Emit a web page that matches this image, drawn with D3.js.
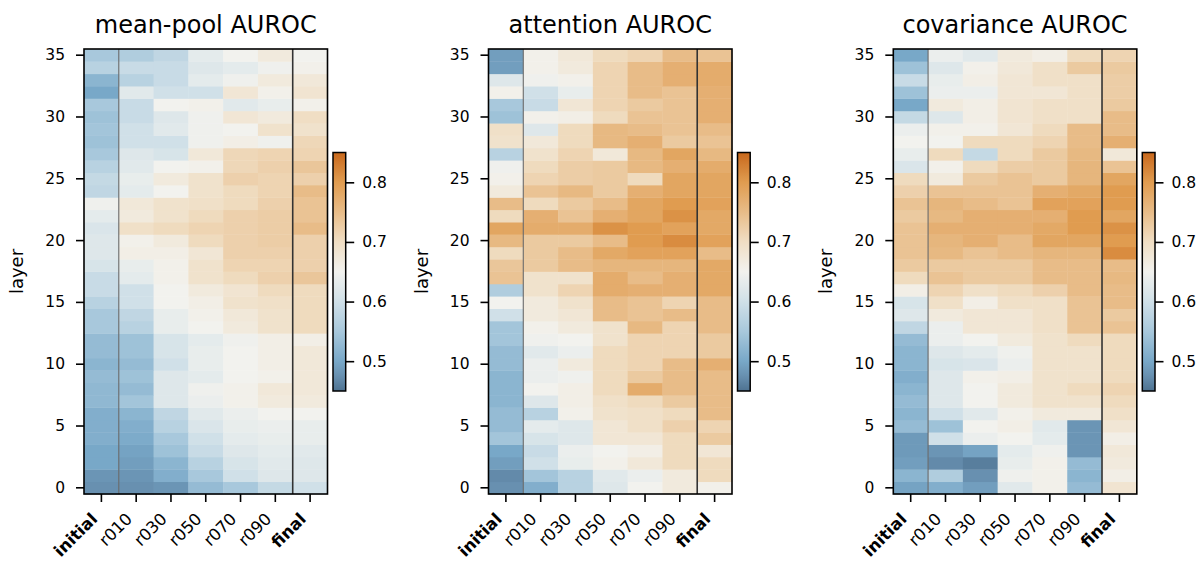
<!DOCTYPE html>
<html lang="en">
<head>
<meta charset="UTF-8">
<title>AUROC by layer</title>
<script src="https://cdn.jsdelivr.net/npm/d3@7"></script>
<style>
  body { margin: 0; background: #fff; }
  svg text { font-family: "DejaVu Sans", sans-serif; fill: #000; }
</style>
</head>
<body>
<div id="chart"></div>
<script>
// columns = checkpoints, rows = layer 0..35
const checkpoints = ["initial", "r010", "r030", "r050", "r070", "r090", "final"];
const boldLabels = ["initial", "final"];
const layerTicks = [0, 5, 10, 15, 20, 25, 30, 35];
const cbarTicks = [0.5, 0.6, 0.7, 0.8];
const titles = ["mean-pool AUROC", "attention AUROC", "covariance AUROC"];

const meanPool = [
  [0.475,0.475,0.48,0.53,0.55,0.585,0.60],
  [0.48,0.48,0.51,0.55,0.60,0.62,0.62],
  [0.50,0.49,0.52,0.57,0.61,0.625,0.62],
  [0.50,0.495,0.54,0.59,0.62,0.63,0.625],
  [0.51,0.505,0.55,0.60,0.63,0.635,0.635],
  [0.51,0.51,0.57,0.615,0.635,0.64,0.635],
  [0.51,0.52,0.58,0.625,0.64,0.65,0.65],
  [0.525,0.545,0.62,0.64,0.655,0.67,0.67],
  [0.525,0.53,0.62,0.645,0.655,0.675,0.675],
  [0.53,0.54,0.62,0.63,0.65,0.655,0.675],
  [0.52,0.53,0.60,0.635,0.65,0.66,0.675],
  [0.53,0.54,0.61,0.635,0.65,0.66,0.675],
  [0.53,0.54,0.61,0.63,0.645,0.66,0.66],
  [0.55,0.57,0.635,0.65,0.67,0.69,0.705],
  [0.55,0.58,0.635,0.655,0.675,0.69,0.705],
  [0.57,0.60,0.65,0.66,0.69,0.695,0.705],
  [0.59,0.60,0.65,0.67,0.685,0.705,0.705],
  [0.59,0.63,0.655,0.69,0.705,0.72,0.735],
  [0.61,0.635,0.655,0.69,0.715,0.715,0.72],
  [0.62,0.66,0.66,0.68,0.72,0.72,0.72],
  [0.62,0.655,0.67,0.705,0.72,0.725,0.72],
  [0.615,0.695,0.705,0.715,0.72,0.725,0.75],
  [0.63,0.67,0.69,0.705,0.72,0.725,0.74],
  [0.645,0.675,0.69,0.695,0.705,0.72,0.74],
  [0.58,0.63,0.65,0.69,0.705,0.715,0.75],
  [0.585,0.635,0.67,0.69,0.72,0.715,0.72],
  [0.57,0.625,0.65,0.655,0.71,0.72,0.735],
  [0.55,0.62,0.61,0.675,0.71,0.715,0.715],
  [0.54,0.60,0.60,0.645,0.66,0.645,0.71],
  [0.545,0.60,0.625,0.645,0.65,0.69,0.69],
  [0.54,0.59,0.62,0.645,0.68,0.67,0.70],
  [0.55,0.59,0.65,0.655,0.625,0.635,0.655],
  [0.50,0.625,0.60,0.60,0.68,0.655,0.685],
  [0.52,0.57,0.59,0.63,0.645,0.67,0.675],
  [0.57,0.59,0.59,0.62,0.63,0.645,0.655],
  [0.55,0.56,0.58,0.63,0.65,0.67,0.65]
];

const attention = [
  [0.475,0.51,0.57,0.62,0.65,0.67,0.655],
  [0.47,0.545,0.57,0.625,0.64,0.67,0.705],
  [0.49,0.60,0.635,0.655,0.675,0.705,0.705],
  [0.50,0.59,0.64,0.65,0.66,0.705,0.68],
  [0.545,0.61,0.62,0.68,0.68,0.705,0.73],
  [0.53,0.63,0.62,0.68,0.695,0.72,0.715],
  [0.53,0.57,0.655,0.69,0.695,0.705,0.75],
  [0.52,0.62,0.66,0.695,0.705,0.73,0.75],
  [0.52,0.65,0.66,0.705,0.775,0.75,0.75],
  [0.52,0.64,0.645,0.705,0.73,0.75,0.75],
  [0.53,0.64,0.67,0.705,0.715,0.75,0.77],
  [0.53,0.625,0.64,0.705,0.715,0.715,0.73],
  [0.545,0.645,0.65,0.69,0.715,0.715,0.73],
  [0.545,0.655,0.67,0.69,0.755,0.715,0.75],
  [0.60,0.67,0.68,0.75,0.74,0.75,0.75],
  [0.65,0.67,0.69,0.75,0.74,0.715,0.75],
  [0.56,0.69,0.715,0.775,0.77,0.77,0.78],
  [0.74,0.69,0.69,0.775,0.75,0.77,0.78],
  [0.735,0.73,0.75,0.76,0.76,0.76,0.78],
  [0.705,0.73,0.75,0.78,0.79,0.79,0.75],
  [0.755,0.73,0.73,0.75,0.80,0.815,0.79],
  [0.785,0.775,0.775,0.81,0.80,0.79,0.78],
  [0.705,0.77,0.74,0.77,0.785,0.81,0.78],
  [0.75,0.705,0.73,0.75,0.785,0.80,0.79],
  [0.67,0.74,0.755,0.73,0.77,0.785,0.785],
  [0.655,0.715,0.725,0.73,0.705,0.785,0.785],
  [0.645,0.705,0.725,0.73,0.755,0.77,0.775],
  [0.57,0.69,0.715,0.675,0.755,0.785,0.755],
  [0.69,0.675,0.705,0.755,0.77,0.73,0.74],
  [0.695,0.62,0.705,0.755,0.75,0.74,0.75],
  [0.54,0.655,0.66,0.705,0.74,0.74,0.77],
  [0.55,0.59,0.68,0.715,0.73,0.74,0.77],
  [0.655,0.60,0.635,0.715,0.75,0.74,0.77],
  [0.62,0.645,0.655,0.715,0.75,0.77,0.775],
  [0.49,0.655,0.67,0.715,0.75,0.77,0.775],
  [0.49,0.655,0.675,0.705,0.715,0.75,0.74]
];

const covariance = [
  [0.495,0.51,0.49,0.625,0.655,0.53,0.685],
  [0.52,0.56,0.475,0.645,0.655,0.52,0.66],
  [0.49,0.47,0.46,0.635,0.655,0.53,0.67],
  [0.485,0.48,0.495,0.63,0.645,0.48,0.675],
  [0.485,0.60,0.64,0.65,0.63,0.48,0.66],
  [0.53,0.54,0.65,0.66,0.625,0.48,0.68],
  [0.52,0.60,0.625,0.655,0.67,0.67,0.695],
  [0.53,0.62,0.65,0.67,0.69,0.69,0.705],
  [0.52,0.62,0.65,0.67,0.69,0.705,0.715],
  [0.51,0.62,0.655,0.66,0.69,0.69,0.705],
  [0.52,0.61,0.615,0.64,0.69,0.69,0.705],
  [0.52,0.62,0.63,0.645,0.69,0.69,0.705],
  [0.53,0.64,0.65,0.67,0.69,0.705,0.705],
  [0.58,0.64,0.68,0.68,0.695,0.74,0.74],
  [0.62,0.67,0.68,0.68,0.695,0.74,0.73],
  [0.61,0.695,0.66,0.695,0.695,0.74,0.75],
  [0.66,0.715,0.695,0.705,0.72,0.75,0.75],
  [0.705,0.74,0.73,0.73,0.75,0.75,0.755],
  [0.73,0.73,0.73,0.73,0.75,0.75,0.75],
  [0.74,0.755,0.74,0.75,0.76,0.76,0.815],
  [0.74,0.76,0.77,0.75,0.785,0.785,0.80],
  [0.74,0.77,0.77,0.77,0.78,0.80,0.81],
  [0.73,0.755,0.77,0.77,0.77,0.80,0.785],
  [0.74,0.76,0.75,0.74,0.79,0.79,0.80],
  [0.72,0.74,0.74,0.74,0.77,0.78,0.80],
  [0.705,0.67,0.73,0.74,0.73,0.76,0.785],
  [0.615,0.655,0.705,0.725,0.73,0.76,0.74],
  [0.635,0.705,0.585,0.705,0.73,0.755,0.675],
  [0.65,0.65,0.705,0.705,0.715,0.75,0.77],
  [0.64,0.655,0.655,0.68,0.705,0.75,0.75],
  [0.585,0.62,0.66,0.685,0.695,0.695,0.75],
  [0.50,0.67,0.66,0.685,0.695,0.695,0.73],
  [0.54,0.64,0.64,0.68,0.68,0.695,0.725],
  [0.59,0.635,0.66,0.68,0.695,0.695,0.725],
  [0.54,0.62,0.655,0.675,0.695,0.73,0.73],
  [0.50,0.64,0.625,0.67,0.66,0.705,0.715]
];

// diverging map, white near 0.65
const colorStops = [0.45, 0.475, 0.50, 0.55, 0.60, 0.65, 0.70, 0.75, 0.80, 0.85];
const colorHex = ["#4e7291", "#6890b0", "#78a8c8", "#a8c8dc", "#d0e0e8", "#f2f2ee",
                  "#f0dec4", "#e8bc88", "#e09c50", "#c8681c"];
const vmin = 0.45, vmax = 0.85;

const panels = [meanPool, attention, covariance];

const width = 1202, height = 563;
const plotTop = 49, plotBottom = 494, panelW = 243.5;
const panelLeft = [84, 488.5, 893.3];
const cbTop = 152.5, cbBottom = 391, cbW = 12.7;

const color = d3.scaleLinear().domain(colorStops).range(colorHex).clamp(true);

const svg = d3.select("#chart")
  .append("svg")
  .attr("width", width)
  .attr("height", height);

// shared gradient for the colorbars
const grad = svg.append("defs").append("linearGradient")
  .attr("id", "cbgrad")
  .attr("x1", 0).attr("y1", 1).attr("x2", 0).attr("y2", 0);
d3.range(0, 1.0001, 0.025).forEach(t => {
  grad.append("stop")
    .attr("offset", t)
    .attr("stop-color", color(vmin + t * (vmax - vmin)));
});

const layers = d3.range(35, -1, -1);

panels.forEach((values, i) => {
  const left = panelLeft[i];
  const g = svg.append("g");

  const x = d3.scaleBand().domain(checkpoints).range([left, left + panelW]);
  const y = d3.scaleBand().domain(layers).range([plotTop, plotBottom]);

  const cells = [];
  values.forEach((row, layer) => {
    row.forEach((v, c) => cells.push({layer: layer, col: checkpoints[c], v: v}));
  });

  g.selectAll("rect.cell")
    .data(cells)
    .join("rect")
    .attr("class", "cell")
    .attr("x", d => x(d.col))
    .attr("y", d => y(d.layer))
    .attr("width", x.bandwidth() + 0.4)
    .attr("height", y.bandwidth() + 0.4)
    .attr("fill", d => color(d.v));

  // separators after "initial" and before "final"
  g.append("line")
    .attr("x1", x(checkpoints[1])).attr("x2", x(checkpoints[1]))
    .attr("y1", plotTop).attr("y2", plotBottom)
    .attr("stroke", "#6a6a6a").attr("stroke-width", 1.1);
  g.append("line")
    .attr("x1", x("final")).attr("x2", x("final"))
    .attr("y1", plotTop).attr("y2", plotBottom)
    .attr("stroke", "#333").attr("stroke-width", 1.6);

  g.append("rect")
    .attr("x", left).attr("y", plotTop)
    .attr("width", panelW).attr("height", plotBottom - plotTop)
    .attr("fill", "none").attr("stroke", "#000").attr("stroke-width", 1.6);

  // y axis
  const yAxis = g.append("g")
    .attr("transform", `translate(${left},0)`)
    .call(d3.axisLeft(y).tickValues(layerTicks).tickSize(8).tickPadding(11));
  yAxis.select(".domain").remove();
  yAxis.selectAll("line").attr("stroke", "#000").attr("stroke-width", 1.6);
  yAxis.selectAll("text").attr("font-size", "15.5px").attr("font-family", null);

  // x axis, labels turned 45 degrees
  const xAxis = g.append("g")
    .attr("transform", `translate(0,${plotBottom})`)
    .call(d3.axisBottom(x).tickSize(8));
  xAxis.select(".domain").remove();
  xAxis.selectAll("line").attr("stroke", "#000").attr("stroke-width", 1.6);
  xAxis.selectAll("text")
    .attr("y", null).attr("dy", null)
    .attr("font-size", "16.5px").attr("font-family", null)
    .attr("text-anchor", "end")
    .attr("font-weight", d => boldLabels.includes(d) ? "bold" : "normal")
    .attr("transform", "translate(-3,26) rotate(-45)");

  // title and y label
  g.append("text")
    .attr("x", left + panelW / 2).attr("y", 33)
    .attr("text-anchor", "middle")
    .attr("font-size", "24px")
    .text(titles[i]);

  g.append("text")
    .attr("transform", `translate(${left - 61},${(plotTop + plotBottom) / 2}) rotate(-90)`)
    .attr("text-anchor", "middle")
    .attr("font-size", "18px")
    .text("layer");

  // colorbar
  const cbX = left + panelW + 5.5;
  const cb = d3.scaleLinear().domain([vmin, vmax]).range([cbBottom, cbTop]);
  g.append("rect")
    .attr("x", cbX).attr("y", cbTop)
    .attr("width", cbW).attr("height", cbBottom - cbTop)
    .attr("fill", "url(#cbgrad)")
    .attr("stroke", "#000").attr("stroke-width", 1.5);
  const cbAxis = g.append("g")
    .attr("transform", `translate(${cbX + cbW},0)`)
    .call(d3.axisRight(cb).tickValues(cbarTicks).tickSize(8.5).tickPadding(8)
      .tickFormat(d3.format(".1f")));
  cbAxis.select(".domain").remove();
  cbAxis.selectAll("line").attr("stroke", "#000").attr("stroke-width", 1.6);
  cbAxis.selectAll("text").attr("font-size", "15.5px").attr("font-family", null);
});
</script>
</body>
</html>
